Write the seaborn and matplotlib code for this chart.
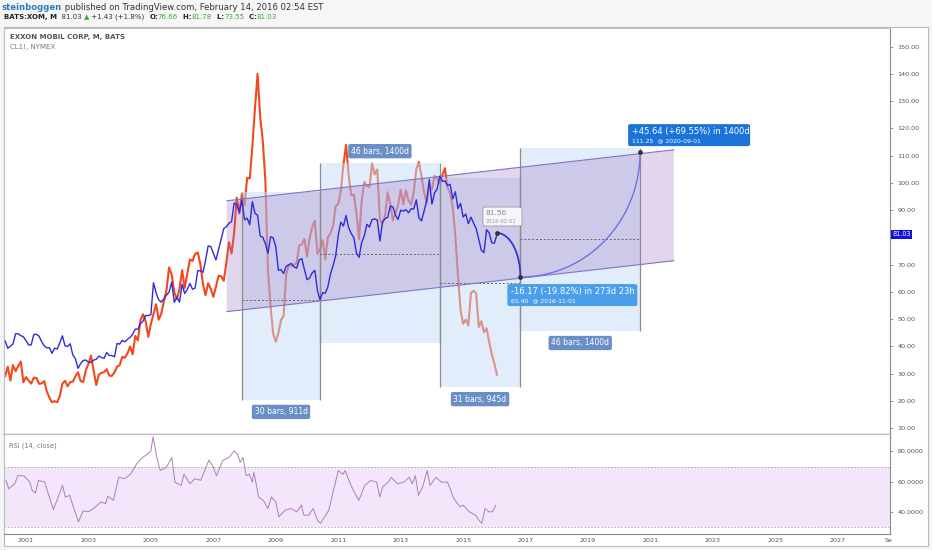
import numpy as np
import pandas as pd
import matplotlib
matplotlib.use("Agg")
import matplotlib.pyplot as plt
import seaborn as sns
from matplotlib.patches import Rectangle, Polygon, FancyBboxPatch
from matplotlib.transforms import blended_transform_factory

W, H = 932, 550

# monthly closes, first bar May 2000, last bar Feb 2016
start_year, start_month = 2000, 5
xom_close = [
    41.97, 39.25, 40.0, 40.8, 44.6, 44.6, 43.9, 43.5,
    42.05, 40.5, 40.5, 44.3, 44.4, 43.7, 41.75, 40.15, 39.4, 39.45, 37.4, 39.3,
    39.0, 41.25, 43.83, 40.17, 39.93, 40.92, 36.76, 35.45, 31.9, 33.66, 34.8, 34.94,
    34.14, 34.05, 34.95, 35.2, 36.4, 35.91, 35.56, 37.7, 36.6, 36.6, 36.1, 41.0,
    40.8, 42.2, 41.59, 42.55, 43.25, 44.41, 46.3, 46.3, 48.33, 49.22, 51.26, 51.26,
    51.6, 63.31, 59.6, 57.03, 56.2, 57.47, 58.75, 59.9, 63.54, 56.15, 58.03, 56.17,
    62.75, 59.37, 60.86, 63.08, 60.93, 61.35, 67.74, 67.69, 67.1, 71.42, 76.8, 76.63,
    74.1, 71.67, 75.45, 79.38, 83.17, 83.88, 85.13, 85.73, 92.56, 92.05, 89.16, 93.69,
    86.4, 87.01, 84.58, 93.07, 88.76, 88.13, 80.43, 80.01, 77.66, 74.12, 80.15, 79.83,
    76.47, 67.9, 68.1, 66.67, 69.35, 69.91, 70.39, 69.17, 68.61, 71.67, 72.14, 68.19,
    64.43, 65.0, 66.98, 67.86, 60.44, 57.07, 59.68, 59.47, 61.79, 66.47, 69.56, 73.12,
    80.68, 85.54, 84.13, 88.0, 83.47, 81.38, 79.79, 74.24, 72.63, 78.09, 80.44, 84.76,
    83.75, 86.5, 86.73, 86.34, 78.63, 85.57, 86.85, 87.3, 91.45, 91.17, 88.14, 86.55,
    89.97, 89.55, 90.11, 88.99, 90.47, 90.35, 93.75, 87.16, 86.04, 89.62, 93.48, 101.2,
    92.16, 96.27, 97.68, 102.41, 100.53, 100.68, 98.94, 99.46, 94.05, 96.71, 90.54, 92.45,
    87.42, 88.54, 85.0, 87.37, 85.2, 83.2, 79.21, 75.24, 74.35, 82.74, 81.66, 77.95,
    77.85, 81.03,
]
oil_close = [
    29.01, 32.5, 27.43, 33.12, 30.84, 32.7, 34.4, 26.8,
    28.66, 27.39, 26.29, 28.46, 28.37, 26.25, 26.35, 27.2, 23.43, 21.18, 19.44, 19.84,
    19.48, 21.74, 26.31, 27.29, 25.31, 26.86, 27.02, 28.98, 30.45, 27.22, 26.89, 31.2,
    33.51, 36.6, 31.04, 25.8, 29.56, 30.19, 30.54, 31.57, 29.2, 29.11, 30.41, 32.52,
    33.05, 36.16, 35.76, 37.38, 39.88, 37.05, 43.8, 42.12, 49.64, 51.76, 49.13, 43.45,
    48.2, 51.75, 55.4, 49.72, 51.97, 56.5, 60.57, 68.94, 66.24, 59.76, 57.32, 61.04,
    67.92, 61.41, 66.63, 71.88, 71.29, 73.93, 74.4, 70.26, 62.91, 58.73, 63.13, 61.05,
    58.14, 61.79, 65.87, 65.71, 64.01, 70.68, 78.21, 74.04, 81.66, 94.53, 88.71, 95.98,
    91.75, 101.84, 101.58, 113.46, 127.35, 140.0, 124.08, 115.46, 100.64, 67.81, 54.43, 44.6,
    41.68, 44.76, 49.66, 51.12, 66.31, 69.89, 69.45, 69.96, 70.61, 77.0, 77.28, 79.36,
    72.89, 79.66, 83.76, 86.15, 73.97, 75.63, 78.95, 71.92, 79.97, 81.43, 84.11, 91.38,
    92.19, 96.97, 106.72, 113.93, 102.7, 95.42, 95.7, 88.81, 79.2, 93.19, 100.36, 98.83,
    98.48, 107.07, 103.02, 104.87, 86.53, 84.96, 88.06, 96.47, 92.19, 86.24, 88.91, 91.82,
    97.49, 92.05, 97.23, 93.46, 91.97, 96.56, 105.03, 107.65, 102.33, 96.38, 92.72, 98.42,
    97.49, 102.59, 101.58, 99.74, 102.71, 105.37, 98.17, 95.96, 91.16, 80.54, 66.15, 53.27,
    48.24, 49.76, 47.6, 59.63, 60.3, 59.47, 47.12, 49.2, 45.09, 46.59, 41.65, 37.04,
    33.62, 29.44,
]

# RSI(14, close) (decimal year, value)
rsi_x = [2000.36, 2000.45, 2000.64, 2000.74, 2000.93, 2001.12, 2001.2, 2001.3, 2001.4, 2001.6,
         2001.7, 2001.88, 2001.97, 2002.17, 2002.26, 2002.4, 2002.55, 2002.68, 2002.83, 2003.0,
         2003.2, 2003.4, 2003.55, 2003.62, 2003.8, 2003.97, 2004.16, 2004.35, 2004.54, 2004.73,
         2004.9, 2005.0, 2005.07, 2005.2, 2005.3, 2005.5, 2005.67, 2005.77, 2005.97, 2006.06,
         2006.25, 2006.4, 2006.6, 2006.7, 2006.86, 2007.0, 2007.1, 2007.3, 2007.5, 2007.67,
         2007.77, 2007.86, 2007.95, 2008.05, 2008.15, 2008.25, 2008.3, 2008.45, 2008.6, 2008.75,
         2008.86, 2009.0, 2009.1, 2009.3, 2009.48, 2009.67, 2009.82, 2009.9, 2010.05, 2010.2,
         2010.33, 2010.43, 2010.6, 2010.7, 2010.82, 2011.0, 2011.15, 2011.22, 2011.41, 2011.57,
         2011.66, 2011.85, 2012.04, 2012.23, 2012.33, 2012.42, 2012.6, 2012.7, 2012.9, 2013.1,
         2013.28, 2013.37, 2013.47, 2013.57, 2013.7, 2013.85, 2013.94, 2014.13, 2014.3, 2014.5,
         2014.7, 2014.9, 2015.0, 2015.2, 2015.4, 2015.5, 2015.6, 2015.7, 2015.83, 2015.93, 2016.05]
rsi_val = [60.9, 55.4, 58.7, 64, 64, 59.8, 54.3, 52.6, 60.9, 59.8,
           53, 41.7, 46.7, 57.6, 50, 51, 41.3, 33.7, 40.9, 40.2,
           43, 46.7, 45.6, 50.4, 47.8, 63, 62, 65, 71.7, 76,
           78.3, 80.4, 89.6, 75, 67.4, 69.6, 76, 59.8, 57.6, 65,
           58.7, 62, 61, 66.3, 74.3, 69.6, 64, 74, 76, 80.4,
           78.3, 72.8, 76, 64, 65, 59.8, 66.3, 50, 47.8, 42.4,
           50, 46.7, 37, 41.3, 42.4, 40.2, 44.6, 38, 38, 42.4,
           34.8, 32.6, 38, 41.3, 52, 67.4, 65, 67.4, 57.6, 51,
           47.8, 57.6, 60.9, 59.8, 50, 56.5, 59.8, 63, 58.7, 59.8,
           63, 58.7, 64, 51, 56.5, 67.4, 57.6, 63, 59.8, 59.8,
           49, 43.5, 44.6, 40.2, 38, 34.8, 32.6, 42.4, 40.2, 40.2, 44.6]

# drawings on the chart: date ranges, channel, projection
range_start = [2007.917, 2010.417, 2014.25, 2016.833]
range_end = [2010.417, 2014.25, 2016.833, 2020.667]
range_top = [96.6, 107.2, 101.7, 112.7]
range_bottom = [20.3, 41.2, 25.0, 45.6]
range_mid = [57.0, 73.9, 63.2, 79.4]
range_labels = ["30 bars, 911d", "46 bars, 1400d", "31 bars, 945d", "46 bars, 1400d"]
range_label_above = [False, True, False, False]

channel_x = [2007.43, 2021.75]
channel_lower = [52.7, 71.4]
channel_upper = [93.4, 112.1]

proj_x = [2016.083, 2016.833, 2020.667]
proj_y = [81.56, 65.40, 111.25]
proj_dates = ["2016-02-01", "2016-11-01", "2020-09-01"]

# 80.00 sits under the last-price tag in the reference
price_ticks = [10, 20, 30, 40, 50, 60, 70, 90, 100, 110, 120, 130, 140, 150]
year_ticks = list(range(2001, 2028, 2))
rsi_ticks = [40, 60, 80]
last_price = 81.03

XOM_BLUE = "#2d2dd8"
OIL_RED = "#f2481c"
GREEN = "#35b040"
TXT = "#555555"

sns.set_style("white")
plt.rcParams["font.family"] = ["DejaVu Sans"]

fig = plt.figure(figsize=(W / 100, H / 100), dpi=100, facecolor="#f6f6f6")
fig.add_artist(Rectangle((4 / W, 1 - 546 / H), 924 / W, 519 / H, transform=fig.transFigure,
                         facecolor="white", edgecolor="#b8b8b8", lw=0.8, zorder=0))

ax = fig.add_axes([4 / W, 1 - 434 / H, 886 / W, 406 / H])
ax_r = fig.add_axes([4 / W, 1 - 534 / H, 886 / W, 100 / H], sharex=ax)

n = len(xom_close)
xs = start_year + (start_month - 1) / 12 + np.arange(n) / 12
df = pd.DataFrame({"x": xs, "xom": xom_close, "oil": oil_close})

sns.lineplot(data=df, x="x", y="oil", ax=ax, color=OIL_RED, lw=1.5, zorder=2)
sns.lineplot(data=df, x="x", y="xom", ax=ax, color=XOM_BLUE, lw=1.0, zorder=6)

ax.set_xlim(2000.296, 2028.67)
ax.set_ylim(7.8, 156.8)

# date ranges
for x0, x1, top, bot, mid, lab, above in zip(range_start, range_end, range_top, range_bottom,
                                             range_mid, range_labels, range_label_above):
    ax.add_patch(Rectangle((x0, bot), x1 - x0, top - bot, facecolor="#c4dcf7", alpha=0.5,
                           lw=0, zorder=3))
    ax.vlines([x0, x1], bot, top, colors="#8c8c8c", lw=0.9, zorder=4)
    ax.hlines(mid, x0, x1, colors="#666666", linestyles=(0, (2, 2)), lw=0.7, zorder=4)
    ly = top + 4.4 if above else bot - 4.4
    ax.text((x0 + x1) / 2, ly, lab, ha="center", va="center", fontsize=5.5, color="white",
            zorder=9, bbox=dict(boxstyle="round,pad=0.35,rounding_size=0.25", fc="#6a8fc6",
                                ec="none"))

# parallel channel
ax.add_patch(Polygon([(channel_x[0], channel_lower[0]), (channel_x[1], channel_lower[1]),
                      (channel_x[1], channel_upper[1]), (channel_x[0], channel_upper[0])],
                     closed=True, facecolor="#9a6cc0", alpha=0.28, lw=0, zorder=3.5))
ax.plot(channel_x, channel_lower, color="#7d76c4", lw=0.8, zorder=4)
ax.plot(channel_x, channel_upper, color="#7d76c4", lw=0.8, zorder=4)

# projection arcs (quarter ellipses between the anchors)
t = np.linspace(0, np.pi / 2, 60)
seg_colors = ["#3636d4", "#7070e4"]
seg_widths = [1.3, 1.0]
for i in range(2):
    x0, x1 = proj_x[i], proj_x[i + 1]
    y0, y1 = proj_y[i], proj_y[i + 1]
    ax.plot(x0 + (x1 - x0) * np.sin(t), y1 + (y0 - y1) * np.cos(t), color=seg_colors[i],
            lw=seg_widths[i], zorder=6)
ax.scatter(proj_x, proj_y, s=6, color="#333333", zorder=8)

# axes styling
for a in (ax, ax_r):
    a.set_facecolor("white")
    a.set_xlabel("")
    a.set_ylabel("")
    for s in a.spines.values():
        s.set_color("#8a8a8a")
        s.set_linewidth(0.8)
    a.spines["left"].set_color("#c0c0c0")
    a.spines["top"].set_color("#c0c0c0")
    a.yaxis.tick_right()
ax.spines["bottom"].set_linewidth(1.0)

ax.set_yticks(price_ticks)
ax.set_yticklabels([f"{v:.2f}" for v in price_ticks])
ax.tick_params(axis="y", labelsize=4.6, colors="#8a8a8a", labelcolor=TXT, length=2.5,
               width=0.6, pad=3)
ax.tick_params(axis="x", bottom=False, labelbottom=False)

tr = blended_transform_factory(ax.transAxes, ax.transData)
ax.text(1.003, last_price, f"{last_price:.2f}", transform=tr, ha="left", va="center",
        fontsize=4.7, color="white", zorder=10, clip_on=False,
        bbox=dict(boxstyle="square,pad=0.2", fc="#1212dc", ec="none"))

# RSI pane
ax_r.axhspan(30, 70, color="#f3e6fb", lw=0, zorder=1)
ax_r.axhline(70, color="#aaaaaa", lw=0.6, ls=(0, (2, 2)), zorder=2)
ax_r.axhline(30, color="#aaaaaa", lw=0.6, ls=(0, (2, 2)), zorder=2)
sns.lineplot(x=rsi_x, y=rsi_val, ax=ax_r, color="#ad7db8", lw=0.7, zorder=3)
ax_r.set_ylim(25.6, 91.5)
ax_r.set_yticks(rsi_ticks)
ax_r.set_yticklabels([f"{v:.4f}" for v in rsi_ticks])
ax_r.tick_params(axis="y", labelsize=4.6, colors="#8a8a8a", labelcolor=TXT, length=2.5,
                 width=0.6, pad=3)
ax_r.set_xticks(year_ticks)
ax_r.set_xticklabels([str(y) for y in year_ticks])
ax_r.tick_params(axis="x", labelsize=4.6, labelcolor=TXT, length=0, pad=3)
ax_r.set_xlim(2000.296, 2028.67)
ax_r.text(0.006, 0.88, "RSI (14, close)", transform=ax_r.transAxes, fontsize=4.8,
          color="#777777", va="center")
fig.text(889 / W, 1 - 541 / H, "Se", fontsize=4.6, color=TXT, ha="center", va="center")


def to_px(x, y):
    X, Y = ax.transData.transform((x, y))
    return X, H - Y


def fbox(left, top, w, h, fc, ec="none"):
    fig.add_artist(FancyBboxPatch((left / W, 1 - (top + h) / H), w / W, h / H,
                                  boxstyle="round,pad=0,rounding_size=0.003",
                                  transform=fig.transFigure, fc=fc, ec=ec, lw=0.6, zorder=20))


def ftext(x, y, s, **kw):
    fig.text(x / W, 1 - y / H, s, va="center", ha="left", zorder=21, **kw)


# projection labels
px0, py0 = to_px(proj_x[0], proj_y[0])
fbox(px0 - 14, py0 - 26, 39, 19, "#f6f6fa", "#9a9a9a")
ftext(px0 - 11, py0 - 20, f"{proj_y[0]:.2f}", fontsize=5.3, color="#8a8a8a")
ftext(px0 - 11, py0 - 12, proj_dates[0], fontsize=3.8, color="#9a9a9a")

px1, py1 = to_px(proj_x[1], proj_y[1])
fbox(px1 - 13, py1 + 7, 130, 22, "#4a9eea")
ftext(px1 - 9, py1 + 14, "-16.17 (-19.82%) in 273d 23h", fontsize=6.0, color="white")
ftext(px1 - 9, py1 + 24, f"{proj_y[1]:.2f}  @ {proj_dates[1]}", fontsize=4.4, color="white")

px2, py2 = to_px(proj_x[2], proj_y[2])
fbox(px2 - 12, py2 - 28, 122, 22, "#1b74da")
ftext(px2 - 8, py2 - 21, "+45.64 (+69.55%) in 1400d", fontsize=6.0, color="white")
ftext(px2 - 8, py2 - 11, f"{proj_y[2]:.2f}  @ {proj_dates[2]}", fontsize=4.4, color="white")

# legend text inside chart
ftext(10, 37, "EXXON MOBIL CORP, M, BATS", fontsize=5.0, color="#555555", weight="bold")
ftext(10, 47, "CL1!, NYMEX", fontsize=5.0, color="#777777")

# header
renderer = fig.canvas.get_renderer()


def runs(x, y, parts, size):
    for s, color, weight in parts:
        t_ = fig.text(x / W, 1 - y / H, s, fontsize=size, color=color, weight=weight,
                      va="center", ha="left")
        x += t_.get_window_extent(renderer).width


runs(2, 7, [("steinboggen", "#2b7bbf", "bold"),
            (" published on TradingView.com, February 14, 2016 02:54 EST", "#333333", "normal")],
     6.1)
runs(4, 17, [("BATS:XOM, M", "#222222", "bold"), ("  81.03 ", "#333333", "normal"),
             ("\u25b2", GREEN, "normal"), (" +1.43 (+1.8%)  ", "#333333", "normal"),
             ("O:", "#222222", "bold"), ("76.66", GREEN, "normal"),
             ("  H:", "#222222", "bold"), ("81.78", GREEN, "normal"),
             ("  L:", "#222222", "bold"), ("73.55", GREEN, "normal"),
             ("  C:", "#222222", "bold"), ("81.03", GREEN, "normal")], 5.0)

fig.savefig("out.png", dpi=100, facecolor=fig.get_facecolor())
